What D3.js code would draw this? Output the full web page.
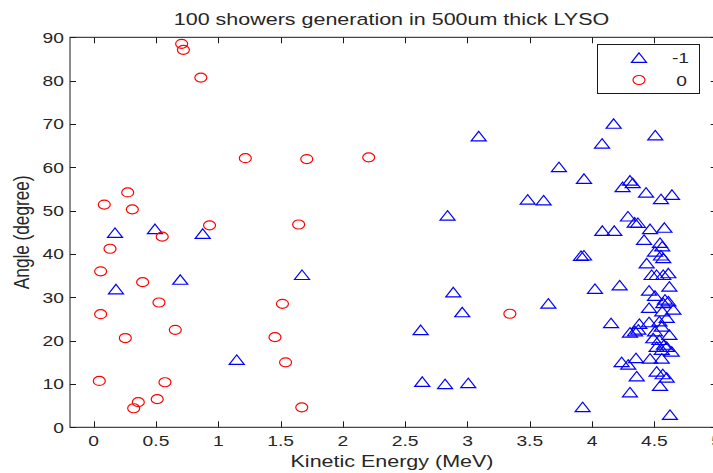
<!DOCTYPE html>
<html>
<head>
<meta charset="utf-8">
<script src="https://cdn.jsdelivr.net/npm/d3@7"></script>
<style>
  html, body { margin: 0; padding: 0; background: #fff; }
  svg { display: block; }
  text { font-family: "Liberation Sans", Arial, sans-serif; fill: #262626; }
</style>
</head>
<body>
<svg id="chart" width="713" height="473"></svg>
<script>
// ---- data ----
const titleText = "100 showers generation in 500um thick LYSO";
const xLabel = "Kinetic Energy (MeV)";
const yLabel = "Angle (degree)";
const xTicks = [0, 0.5, 1, 1.5, 2, 2.5, 3, 3.5, 4, 4.5, 5];
const yTicks = [0, 10, 20, 30, 40, 50, 60, 70, 80, 90];
const seriesNames = ["-1", "0"];

// series "-1" (blue triangles)
const negX = [0.171, 0.492, 0.875, 0.695, 0.179, 1.148, 1.672, 3.09, 2.84, 2.886, 2.958, 2.624, 2.637, 2.82, 3.006,
  4.173, 4.507, 4.08, 3.734, 3.935, 3.483, 3.611, 4.304, 4.326, 4.245, 4.433, 4.553, 4.641, 4.288, 4.342, 4.368,
  4.082, 4.178, 4.465, 4.58, 4.417, 4.545, 4.563, 4.505, 4.553, 4.571, 3.911, 3.935, 4.438,
  4.478, 4.518, 4.571, 4.612, 4.023, 4.221, 4.62, 4.457, 4.505, 4.585, 4.612, 4.571, 3.649, 4.457, 4.652, 4.563, 4.599,
  4.152, 4.379, 4.457, 4.54, 4.559, 4.304, 4.344, 4.371, 4.505, 4.62, 4.491, 4.54, 4.577, 4.518, 4.599, 4.559, 4.639,
  4.237, 4.29, 4.352, 4.465, 4.559, 4.518, 4.567, 4.599, 4.358, 4.545, 4.304, 3.924, 4.625];
const negY = [44.8, 45.7, 44.6, 34.0, 31.8, 15.5, 35.1, 67.1, 48.8, 31.1, 26.5, 22.4, 10.45, 9.9, 10.15,
  70.0, 67.3, 65.4, 60.0, 57.3, 52.5, 52.3, 56.9, 56.3, 55.4, 54.1, 52.6, 53.6, 48.6, 47.2, 47.1,
  45.3, 45.3, 45.7, 46.0, 43.2, 42.5, 41.7, 40.5, 39.6, 39.0, 39.5, 39.6, 37.8,
  35.1, 35.1, 35.1, 35.5, 31.9, 32.7, 32.4, 31.5, 30.3, 29.4, 29.0, 28.6, 28.5, 27.5, 27.1, 26.7, 25.2,
  24.0, 23.8, 24.2, 24.4, 23.2, 21.8, 22.1, 22.5, 22.1, 21.3, 20.5, 20.1, 19.0, 18.5, 18.5, 17.8, 17.4,
  15.0, 14.4, 15.9, 15.8, 15.8, 12.8, 12.2, 11.4, 11.7, 9.5, 8.0, 4.6, 2.8];

// series "0" (red circles)
const zeroX = [0.706, 0.72, 0.86, 1.217, 1.71, 2.207, 0.273, 0.085, 0.31, 0.93, 1.645, 0.55, 0.131, 0.056, 0.393,
  0.524, 1.515, 0.056, 0.655, 0.254, 1.455, 1.54, 0.045, 0.572, 0.358, 0.321, 0.51, 1.67, 3.34];
const zeroY = [88.5, 87.1, 80.7, 62.1, 61.9, 62.3, 54.2, 51.4, 50.3, 46.6, 46.8, 44.0, 41.2, 36.0, 33.5,
  28.8, 28.5, 26.1, 22.5, 20.6, 20.8, 15.0, 10.7, 10.4, 5.8, 4.4, 6.5, 4.6, 26.2];

// ---- drawing ----
(function () {
const svg = d3.select("#chart");
const pl = 70, pr = 716.7, pt = 37.3, pb = 427.3;
const x = d3.scaleLinear().domain([-0.19, 5]).range([pl, pr]);
const y = d3.scaleLinear().domain([0, 90]).range([pb, pt]);
const axisColor = "#1a1a1a";
const tickLen = 6;
const sx = 1.25;          // horizontal stretch of the reference picture
const tickFont = 15.4, labelFont = 17.2;

function stretchedText(parent, tx, ty, str, size, anchor) {
  return parent.append("text")
    .attr("transform", `translate(${tx},${ty}) scale(${sx},1)`)
    .attr("text-anchor", anchor).attr("font-size", size).text(str);
}

const g = svg.append("g");

g.append("rect").attr("x", pl).attr("y", pt)
  .attr("width", pr - pl).attr("height", pb - pt)
  .attr("fill", "#fff").attr("stroke", axisColor).attr("stroke-width", 1);

xTicks.forEach(t => {
  const px = Math.round(x(t)) + 0.5;
  g.append("line").attr("x1", px).attr("x2", px).attr("y1", pb).attr("y2", pb - tickLen).attr("stroke", axisColor);
  g.append("line").attr("x1", px).attr("x2", px).attr("y1", pt).attr("y2", pt + tickLen).attr("stroke", axisColor);
  stretchedText(g, x(t), pb + 18.5, String(t), tickFont, "middle");
});
yTicks.forEach(t => {
  const py = Math.round(y(t)) + 0.5;
  g.append("line").attr("x1", pl).attr("x2", pl + tickLen).attr("y1", py).attr("y2", py).attr("stroke", axisColor);
  g.append("line").attr("x1", pr).attr("x2", pr - tickLen).attr("y1", py).attr("y2", py).attr("stroke", axisColor);
  stretchedText(g, pl - 6, y(t) + 5.5, String(t), tickFont, "end");
});

stretchedText(svg, 391.5, 24.5, titleText, labelFont, "middle");
stretchedText(svg, 392, 467, xLabel, labelFont, "middle");
svg.append("text")
  .attr("transform", `translate(29,${(pt + pb) / 2}) scale(${sx},1) rotate(-90)`)
  .attr("text-anchor", "middle").attr("font-size", labelFont).text(yLabel);

const triPath = (cx, cy) => `M${cx},${cy - 5.2}L${cx + 7.5},${cy + 4.3}L${cx - 7.5},${cy + 4.3}Z`;
const negData = negX.map((v, i) => [v, negY[i]]);
const zeroData = zeroX.map((v, i) => [v, zeroY[i]]);

const plot = svg.append("g");
plot.selectAll("path.tri").data(negData).enter().append("path")
  .attr("class", "tri")
  .attr("d", d => triPath(x(d[0]), y(d[1])))
  .attr("fill", "none").attr("stroke", "#0000ff").attr("stroke-width", 1.2);
plot.selectAll("ellipse.circ").data(zeroData).enter().append("ellipse")
  .attr("class", "circ")
  .attr("cx", d => x(d[0])).attr("cy", d => y(d[1]))
  .attr("rx", 6).attr("ry", 4.5)
  .attr("fill", "none").attr("stroke", "#ff0000").attr("stroke-width", 1.2);

const lg = svg.append("g");
lg.append("rect").attr("x", 597.5).attr("y", 44.5).attr("width", 102).attr("height", 49)
  .attr("fill", "#fff").attr("stroke", axisColor);
lg.append("path").attr("d", triPath(639, 58)).attr("fill", "none").attr("stroke", "#0000ff").attr("stroke-width", 1.2);
lg.append("ellipse").attr("cx", 639).attr("cy", 80).attr("rx", 6).attr("ry", 4.5)
  .attr("fill", "none").attr("stroke", "#ff0000").attr("stroke-width", 1.2);
stretchedText(lg, 689, 62.5, seriesNames[0], tickFont, "end");
stretchedText(lg, 687, 85.5, seriesNames[1], tickFont, "end");
})();
</script>
</body>
</html>
